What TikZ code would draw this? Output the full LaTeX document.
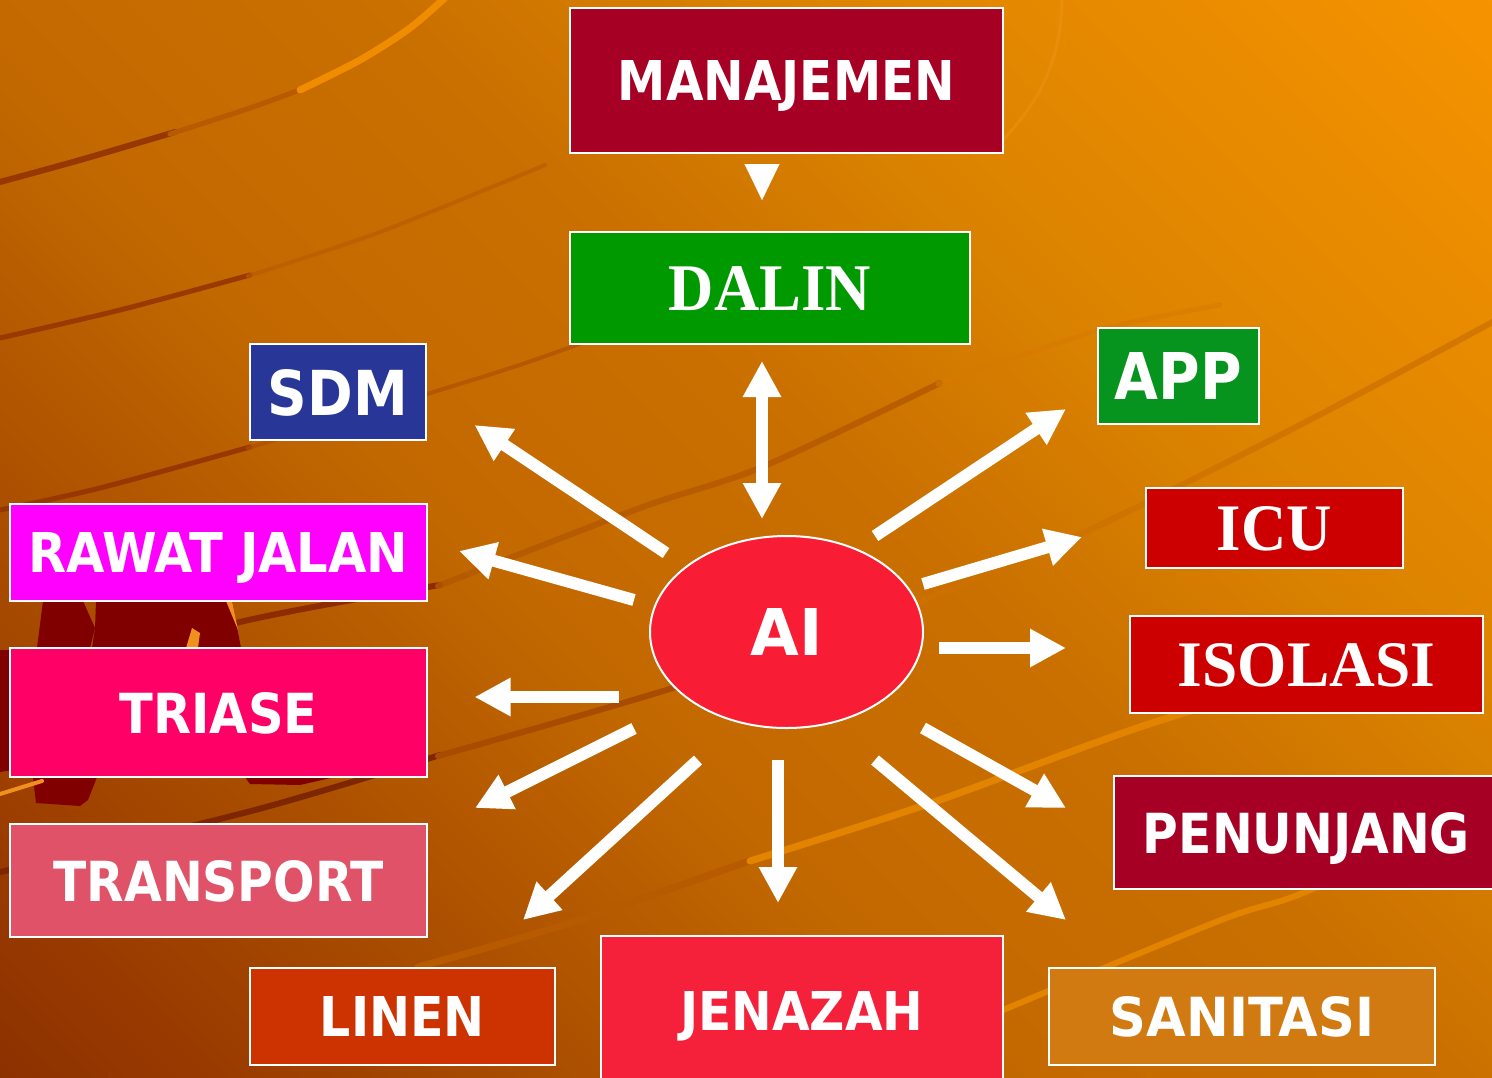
\documentclass[tikz,border=0pt]{standalone}
\usepackage{fontspec}
\usetikzlibrary{arrows.meta,shapes.geometric}
\newfontfamily\sansb{DejaVu Sans Condensed Bold}
\newfontfamily\serifb{Liberation Serif}
\newcommand{\fitlab}[3]{\resizebox{#1pt}{#2pt}{\raisebox{0pt}[\height][0pt]{#3}}}
\definecolor{sA}{HTML}{6C1800}
\definecolor{sB}{HTML}{7E2600}
\definecolor{sC}{HTML}{983A00}
\definecolor{sD}{HTML}{A84C00}
\definecolor{sE}{HTML}{C26800}
\definecolor{sF}{HTML}{CA7000}
\definecolor{sG}{HTML}{DA8200}
\definecolor{sH}{HTML}{F49200}
\definecolor{sI}{HTML}{FA9800}
\pgfdeclareverticalshading{bgshade}{100bp}{color(0bp)=(sA); color(8bp)=(sB); color(20bp)=(sC); color(29bp)=(sD); color(42bp)=(sE); color(55bp)=(sF); color(65bp)=(sG); color(84bp)=(sH); color(100bp)=(sI)}
\definecolor{cMan}{HTML}{A60024}
\definecolor{cDalin}{HTML}{009900}
\definecolor{cSdm}{HTML}{283698}
\definecolor{cApp}{HTML}{06931E}
\definecolor{cRawat}{HTML}{FF00FF}
\definecolor{cIcu}{HTML}{CC0000}
\definecolor{cTriase}{HTML}{FF0066}
\definecolor{cTrans}{HTML}{E05268}
\definecolor{cLinen}{HTML}{CC3300}
\definecolor{cJen}{HTML}{F5203A}
\definecolor{cSan}{HTML}{D27A12}
\definecolor{cAi}{HTML}{F81C34}
\definecolor{cFig}{HTML}{800000}
\tikzset{
  box/.style={rectangle, draw=white, line width=2pt, inner sep=0pt, text=white},
  warrow/.style={draw=white, line width=12pt, -{Triangle[width=36pt,length=36pt]}},
  wdarrow/.style={draw=white, line width=12pt, {Triangle[width=36pt,length=36pt]}-{Triangle[width=36pt,length=36pt]}},
  swoosh/.style={line cap=round, line join=round},
}
\begin{document}
\begin{tikzpicture}[x=1pt,y=-1pt]
\useasboundingbox (0,0) rectangle (1492,1077);
\begin{scope}
\clip (0,0) rectangle (1492,1077);
% background
\shade[shading=bgshade, shading angle=-45] (0,0) rectangle (1492,1077);
% swooshes
\draw[swoosh, line width=6pt, color={rgb,255:red,150;green,56;blue,0}] plot[smooth] coordinates {(0,182) (80,160) (175,132)};
\draw[swoosh, line width=5pt, color={rgb,255:red,184;green,90;blue,0}] plot[smooth] coordinates {(170,134) (250,108) (305,88)};
\draw[swoosh, line width=7pt, color={rgb,255:red,240;green,140;blue,0}] plot[smooth] coordinates {(300,90) (360,60) (410,28) (448,-5)};
\draw[swoosh, line width=5pt, color={rgb,255:red,154;green,58;blue,0}] plot[smooth] coordinates {(0,338) (120,310) (250,275)};
\draw[swoosh, line width=4pt, color={rgb,255:red,186;green,92;blue,0}, opacity=0.7] plot[smooth] coordinates {(248,276) (380,232) (545,165)};
\draw[swoosh, line width=5pt, color={rgb,255:red,150;green,56;blue,0}] plot[smooth] coordinates {(0,510) (100,488) (250,447)};
\draw[swoosh, line width=4pt, color={rgb,255:red,176;green,80;blue,0}, opacity=0.7] plot[smooth] coordinates {(248,448) (440,390) (540,358) (700,300)};
\draw[swoosh, line width=6pt, color={rgb,255:red,140;green,44;blue,0}] plot[smooth] coordinates {(0,690) (240,622) (440,585)};
\draw[swoosh, line width=6pt, color={rgb,255:red,180;green,88;blue,0}, opacity=0.8] plot[smooth] coordinates {(438,586) (640,508) (762,467) (940,383)};
\draw[swoosh, line width=5pt, color={rgb,255:red,215;green,122;blue,0}, opacity=0.6] plot[smooth] coordinates {(938,384) (1100,330) (1220,305)};
\draw[swoosh, line width=6pt, color={rgb,255:red,126;green,38;blue,0}] plot[smooth] coordinates {(0,872) (255,810) (440,755)};
\draw[swoosh, line width=6pt, color={rgb,255:red,168;green,76;blue,0}] plot[smooth] coordinates {(438,756) (676,687) (900,610)};
\draw[swoosh, line width=6pt, color={rgb,255:red,205;green,114;blue,0}, opacity=0.8] plot[smooth] coordinates {(898,611) (1083,533) (1300,425) (1500,318)};
\draw[swoosh, line width=7pt, color={rgb,255:red,184;green,90;blue,0}] plot[smooth] coordinates {(418,967) (570,923) (752,860)};
\draw[swoosh, line width=7pt, color={rgb,255:red,226;green,132;blue,0}] plot[smooth] coordinates {(750,861) (931,803) (1140,727) (1320,672) (1420,638) (1500,585)};
\draw[swoosh, line width=6pt, color={rgb,255:red,226;green,132;blue,0}] plot[smooth] coordinates {(1003,1010) (1221,920) (1310,890) (1500,800)};
\draw[swoosh, line width=3pt, color={rgb,255:red,242;green,154;blue,32}, opacity=0.35] (1062,-5) .. controls (1062,60) and (1040,100) .. (1003,140);
% dark figure behind left boxes
\fill[cFig] (43,601) -- (83,601) -- (95,628) -- (90,648) -- (37,648) -- cycle;
\fill[cFig] (96,601) -- (232,601) -- (241,648) -- (92,648) -- (95,628) -- cycle;
\fill[color={rgb,255:red,240;green,144;blue,32}] (186,648) -- (192,628) -- (200,633) -- (198,648) -- cycle;
\fill[color={rgb,255:red,240;green,144;blue,32}] (226,601) -- (232,601) -- (238,630) -- cycle;
\fill[cFig] (0,650) -- (12,650) -- (12,770) -- (0,772) -- cycle;
\fill[cFig] (33,777) -- (97,777) -- (88,800) -- (80,806) -- (36,803) -- cycle;
\fill[cFig] (245,777) -- (335,777) -- (300,785) -- (250,784) -- cycle;
\draw[swoosh, line width=4pt, color={rgb,255:red,240;green,144;blue,32}] (0,794) -- (42,781);
% boxes
\node[box, fill=cMan, minimum width=433pt, minimum height=145pt] (man) at (786.5,80.5) {\fitlab{337}{40}{\sansb MANAJEMEN}};
\node[box, fill=cDalin, minimum width=400pt, minimum height=112pt] (dalin) at (770,288) {\fitlab{202}{44}{\serifb\bfseries DALIN}};
\node[box, fill=cSdm, minimum width=176pt, minimum height=96pt] (sdm) at (338,392) {\fitlab{140}{46}{\sansb SDM}};
\node[box, fill=cApp, minimum width=161pt, minimum height=96pt] (app) at (1178.5,376) {\fitlab{127}{47}{\sansb APP}};
\node[box, fill=cRawat, minimum width=417pt, minimum height=97pt] (rawat) at (218.5,552.5) {\fitlab{380}{40}{\sansb RAWAT JALAN}};
\node[box, fill=cIcu, minimum width=257pt, minimum height=80pt] (icu) at (1274.5,528) {\fitlab{115}{44}{\serifb\bfseries ICU}};
\node[box, fill=cIcu, minimum width=353pt, minimum height=97pt] (iso) at (1306.5,664.5) {\fitlab{257}{43}{\serifb\bfseries ISOLASI}};
\node[box, fill=cTriase, minimum width=417pt, minimum height=129pt] (triase) at (218.5,712.5) {\fitlab{198}{41}{\sansb TRIASE}};
\node[box, fill=cMan, minimum width=385pt, minimum height=113pt] (pen) at (1306.5,832.5) {\fitlab{327}{41}{\sansb PENUNJANG}};
\node[box, fill=cTrans, minimum width=417pt, minimum height=113pt] (trans) at (218.5,880.5) {\fitlab{330}{41}{\sansb TRANSPORT}};
\node[box, fill=cLinen, minimum width=305pt, minimum height=97pt] (linen) at (402.5,1016.5) {\fitlab{165}{40}{\sansb LINEN}};
\node[box, fill=cJen, minimum width=402pt, minimum height=149pt] (jen) at (802,1010.5) {\fitlab{243}{39}{\sansb JENAZAH}};
\node[box, fill=cSan, minimum width=386pt, minimum height=97pt] (san) at (1242,1016.5) {\fitlab{264}{40}{\sansb SANITASI}};
\node[ellipse, draw=white, line width=2pt, fill=cAi, inner sep=0pt, text=white, minimum width=273pt, minimum height=192pt] (ai) at (786.5,632) {\fitlab{72}{47}{\sansb AI}};
% connector end points
\coordinate (m-t) at (762,164);   \coordinate (m-h) at (762,200);
\coordinate (d-h) at (762,361);   \coordinate (a-h) at (762,519);
\coordinate (sdm-t) at (666,553); \coordinate (sdm-h) at (474.5,425);
\coordinate (raw-t) at (634,600); \coordinate (raw-h) at (459,551);
\coordinate (tri-t) at (618.5,697); \coordinate (tri-h) at (474.5,697);
\coordinate (tra-t) at (634,728.5); \coordinate (tra-h) at (475,808);
\coordinate (lin-t) at (698,760); \coordinate (lin-h) at (523,920);
\coordinate (jen-t) at (778,760); \coordinate (jen-h) at (778,903);
\coordinate (san-t) at (875,760); \coordinate (san-h) at (1066,920);
\coordinate (pen-t) at (923,728); \coordinate (pen-h) at (1066,808);
\coordinate (iso-t) at (939,648); \coordinate (iso-h) at (1066,648);
\coordinate (icu-t) at (923,584); \coordinate (icu-h) at (1082,537);
\coordinate (app-t) at (875,536); \coordinate (app-h) at (1066,409);
% connectors
\draw[draw=white, line width=0.1pt, -{Triangle[width=35pt,length=36pt]}] (m-t) -- (m-h);
\draw[wdarrow] (d-h) -- (a-h);
\draw[warrow] (sdm-t) -- (sdm-h);
\draw[warrow] (raw-t) -- (raw-h);
\draw[warrow] (tri-t) -- (tri-h);
\draw[warrow] (tra-t) -- (tra-h);
\draw[warrow] (lin-t) -- (lin-h);
\draw[warrow] (jen-t) -- (jen-h);
\draw[warrow] (san-t) -- (san-h);
\draw[warrow] (pen-t) -- (pen-h);
\draw[warrow] (iso-t) -- (iso-h);
\draw[warrow] (icu-t) -- (icu-h);
\draw[warrow] (app-t) -- (app-h);
\end{scope}
\end{tikzpicture}
\end{document}
